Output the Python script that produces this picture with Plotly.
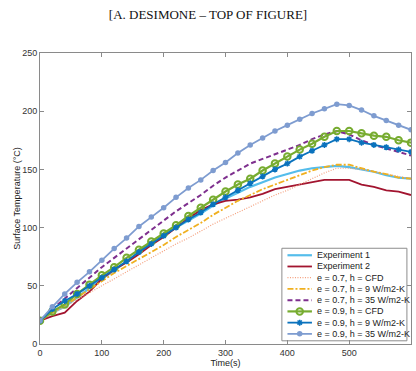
import plotly.graph_objects as go

# ---------------- data ----------------
time_s = [0, 20, 40, 60, 80, 100, 120, 140, 160, 180, 200, 220, 240, 260, 280, 300,
          320, 340, 360, 380, 400, 420, 440, 460, 480, 500, 520, 540, 560, 580, 600]

experiment_1 = [20, 27, 32, 40, 48, 56, 63, 71, 79, 86, 93, 100, 106, 112, 119, 125,
                130, 135, 139, 143, 146, 149, 151, 152, 153, 152, 150, 148, 145, 143, 142]
experiment_2 = [20, 24, 27, 37, 45, 56, 64, 70, 77, 85, 92, 100, 108, 115, 120, 123,
                124, 126, 129, 133, 135, 137, 139, 141, 141, 141, 137, 135, 132, 131, 128]
e07_cfd = [20, 26, 32, 38, 44, 50, 56, 62, 68, 74, 80, 86, 91, 97, 103, 108,
           113, 118, 123, 128, 132, 137, 142, 147, 151, 151, 150, 148, 146, 144, 142]
e07_h9 = [20, 27, 33, 40, 47, 54, 61, 67, 73, 79, 85, 92, 98, 104, 111, 117,
          123, 128, 133, 137, 141, 145, 149, 152, 154, 154, 151, 148, 146, 143, 142]
e07_h35 = [20, 30, 39, 48, 57, 66, 74, 82, 90, 98, 106, 114, 121, 128, 136, 143,
           149, 155, 159, 163, 167, 171, 176, 180, 183, 180, 175, 171, 168, 165, 162]
e09_cfd = [20, 28, 34, 43, 51, 59, 66, 74, 81, 88, 95, 102, 110, 117, 124, 131,
           137, 142, 149, 155, 161, 167, 172, 178, 183, 183, 181, 179, 178, 175, 173]
e09_h9 = [20, 30, 37, 43, 50, 57, 64, 71, 79, 86, 93, 100, 107, 113, 120, 126,
          132, 138, 144, 150, 155, 161, 166, 171, 176, 176, 173, 171, 169, 167, 165]
e09_h35 = [20, 32, 43, 53, 62, 72, 82, 91, 101, 109, 117, 126, 134, 141, 149, 156,
           164, 171, 177, 183, 188, 193, 198, 202, 206, 205, 201, 196, 192, 188, 184]

series_names = ["Experiment 1", "Experiment 2", "e = 0.7, h = CFD", "e = 0.7, h = 9 W/m2-K",
                "e = 0.7, h = 35 W/m2-K", "e = 0.9, h = CFD", "e = 0.9, h = 9 W/m2-K",
                "e = 0.9, h = 35 W/m2-K"]
series_values = [experiment_1, experiment_2, e07_cfd, e07_h9, e07_h35, e09_cfd, e09_h9, e09_h35]

x_ticks = [0, 100, 200, 300, 400, 500, 600]
y_ticks = [0, 50, 100, 150, 200, 250]

# ---------------- styles ----------------
styles = [
    dict(line=dict(color="#55BDEB", width=2.2), mode="lines", marker=None),
    dict(line=dict(color="#A2142F", width=1.8), mode="lines", marker=None),
    dict(line=dict(color="#F4A07E", width=1.2, dash="1px,1.5px"), mode="lines", marker=None),
    dict(line=dict(color="#F0B020", width=1.8, dash="6px,2px,2px,2px"), mode="lines", marker=None),
    dict(line=dict(color="#7E2F8E", width=2, dash="5px,3px"), mode="lines", marker=None),
    dict(line=dict(color="#77AC30", width=2.2), mode="lines+markers",
         marker=dict(symbol="circle-open", size=6.5, color="#77AC30", line=dict(width=2, color="#77AC30"))),
    dict(line=dict(color="#0A72BD", width=1.8), mode="lines+markers",
         marker=dict(symbol="asterisk-open", size=5, color="#0A72BD", line=dict(width=1.5, color="#0A72BD"))),
    dict(line=dict(color="#7E9CD0", width=1.8), mode="lines+markers",
         marker=dict(symbol="circle", size=5.5, color="#7E9CD0")),
]

fig = go.Figure()
for name, vals, st in zip(series_names, series_values, styles):
    kw = dict(x=time_s, y=vals, name=name, mode=st["mode"], line=st["line"], showlegend=False)
    if st["marker"] is not None:
        kw["marker"] = st["marker"]
    fig.add_trace(go.Scatter(**kw))

# ---------------- custom compact legend (overlay axes 0..1) ----------------
lx0, lx1, ly0, ly1 = 0.652, 0.989, 0.011, 0.329
fig.add_trace(go.Scatter(x=[lx0, lx1, lx1, lx0, lx0], y=[ly0, ly0, ly1, ly1, ly0],
                         xaxis="x2", yaxis="y2", mode="lines", fill="toself",
                         fillcolor="white", line=dict(color="#8c8c8c", width=1),
                         showlegend=False, hoverinfo="skip"))
row_top, row_step = 0.305, 0.0386
sx0, sx1, tx = 0.667, 0.733, 0.742
for i, (name, st) in enumerate(zip(series_names, styles)):
    ry = row_top - i * row_step
    fig.add_trace(go.Scatter(x=[sx0, sx1], y=[ry, ry], xaxis="x2", yaxis="y2", mode="lines",
                             line=st["line"], showlegend=False, hoverinfo="skip"))
    if st["marker"] is not None:
        fig.add_trace(go.Scatter(x=[(sx0 + sx1) / 2], y=[ry], xaxis="x2", yaxis="y2",
                                 mode="markers", marker=st["marker"], showlegend=False,
                                 hoverinfo="skip"))
    fig.add_annotation(x=tx, y=ry, xref="paper", yref="paper", text=name, showarrow=False,
                       xanchor="left", yanchor="middle",
                       font=dict(family="Liberation Sans, Arial", size=9, color="#222"))

axis_common = dict(showline=True, linecolor="#8a8a8a", linewidth=1, mirror="ticks",
                   ticks="inside", ticklen=4, tickcolor="#8a8a8a", showgrid=False,
                   zeroline=False,
                   tickfont=dict(family="Liberation Sans, Arial", size=9, color="#333"))

fig.update_layout(
    width=416, height=371,
    margin=dict(l=40, r=5, t=53, b=27),
    paper_bgcolor="white", plot_bgcolor="white",
    title=dict(text="[A. DESIMONE \u2013 TOP OF FIGURE]", x=0.5, xanchor="center",
               y=1 - 14 / 371, yref="container", yanchor="middle",
               font=dict(family="Liberation Serif, Times New Roman", size=13, color="#111")),
    xaxis=dict(range=[0, 600], tickvals=x_ticks, ticktext=[str(v) for v in x_ticks],
               title=dict(text="Time(s)", standoff=0,
                          font=dict(family="Liberation Sans, Arial", size=9, color="#222")),
               **axis_common),
    yaxis=dict(range=[0, 250], tickvals=y_ticks, ticktext=[str(v) for v in y_ticks],
               title=dict(text="Surface Temperature (\u00b0C)", standoff=0,
                          font=dict(family="Liberation Sans, Arial", size=9, color="#222")),
               **axis_common),
    xaxis2=dict(range=[0, 1], overlaying="x", anchor="y2", visible=False, fixedrange=True),
    yaxis2=dict(range=[0, 1], overlaying="y", anchor="x2", visible=False, fixedrange=True),
    showlegend=False,
)

fig.write_html("out.html", config={"displayModeBar": False},
               post_script="document.body.style.margin='0';document.body.style.overflow='hidden';")
